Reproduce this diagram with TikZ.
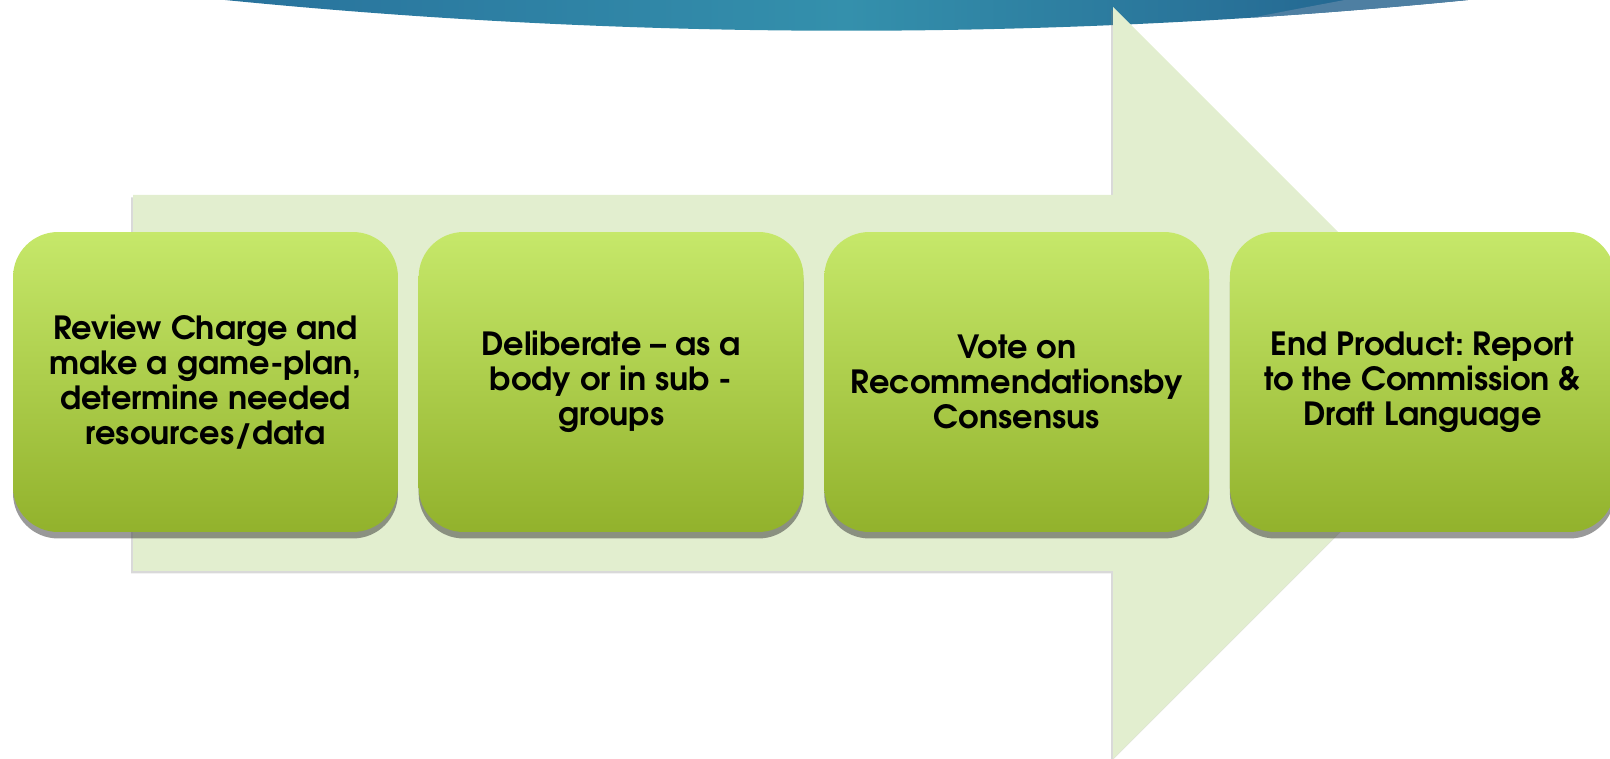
\documentclass[tikz,border=0pt]{standalone}
\usepackage{fontspec}
\setmainfont{TeX Gyre Adventor}
\frenchspacing
\usetikzlibrary{positioning, shadows}

\definecolor{arrowgreen}{HTML}{E2EECF}
\definecolor{boxtop}{HTML}{C6E86A}
\definecolor{boxbottom}{HTML}{92B22C}
\definecolor{swooshleft}{HTML}{28729C}
\definecolor{swooshmid}{HTML}{3490AC}
\definecolor{swooshright}{HTML}{215F8C}
\definecolor{swooshlight}{HTML}{4E7FA2}

\tikzset{
    stagebox/.style={rounded corners=0.9cm, minimum width=7.7cm, minimum height=6cm,
        top color=boxtop, bottom color=boxbottom, align=center,
        font=\fontsize{18.2}{20}\selectfont\bfseries,
        drop shadow={shadow xshift=0cm, shadow yshift=-0.13cm, opacity=0.5, fill=black!80}},
}

\begin{document}
\begin{tikzpicture}[x=0.02cm, y=-0.02cm]
    \useasboundingbox (0,0) rectangle (1610,759);

    % Header swoosh
    \shade[left color=swooshleft, right color=swooshright, middle color=swooshmid]
        (225,0) .. controls (639,41) and (1054,41) .. (1468,0) -- cycle;
    \begin{scope}
        \clip (225,0) .. controls (639,41) and (1054,41) .. (1468,0) -- cycle;
        \fill[swooshlight] (1193,30) .. controls (1270,14) .. (1350,-1) -- (1500,-1) -- (1500,40) -- cycle;
    \end{scope}

    % Process arrow
    \fill[arrowgreen, drop shadow={shadow xshift=-0.04cm, shadow yshift=-0.05cm, opacity=0.3}]
        (133,195) -- (1113,195) -- (1113,7) -- (1489,383) -- (1113,759) -- (1113,571) -- (133,571) -- cycle;

    % Stages
    \node[stagebox] (review) at (205.5,382) {Review Charge and\\make a game-plan,\\determine needed\\resources/data};
    \node[stagebox, right=0.4cm of review] (deliberate) {Deliberate – as a\\body or in sub -\\groups};
    \node[stagebox, right=0.4cm of deliberate] (vote) {Vote on\\Recommendationsby\\Consensus};
    \node[stagebox, right=0.4cm of vote] (product) {End Product: Report\\to the Commission \&\\Draft Language};
\end{tikzpicture}
\end{document}
